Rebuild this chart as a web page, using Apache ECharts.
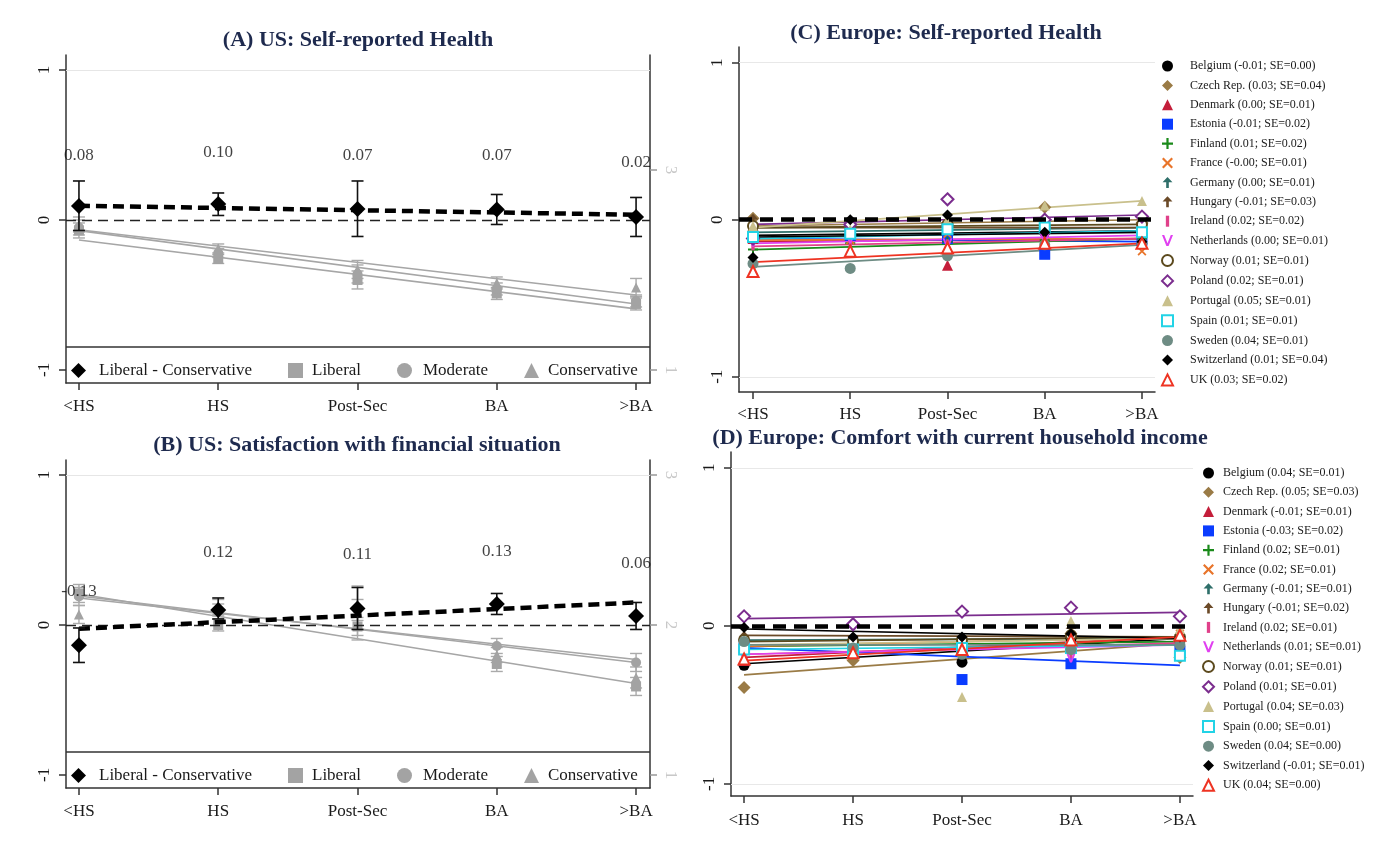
<!DOCTYPE html>
<html>
<head>
<meta charset="utf-8">
<script src="https://cdn.jsdelivr.net/npm/echarts@6/dist/echarts.min.js"></script>
<style>
  html, body { margin: 0; padding: 0; background: #fff; }
  #main { width: 1385px; height: 846px; }
</style>
</head>
<body>
<div id="main"></div>
<script>
// education groups on the x axis
const cats = ['<HS', 'HS', 'Post-Sec', 'BA', '>BA'];

// ---- (A) US: Self-reported Health ----
const lcA = [0.093, 0.107, 0.073, 0.07, 0.02];
const lcLoA = [-0.07, 0.03, -0.11, -0.03, -0.11];
const lcHiA = [0.26, 0.18, 0.26, 0.17, 0.15];
const fitLcA = [0.095, 0.035];
const diffLabA = ['0.08', '0.10', '0.07', '0.07', '0.02'];
const labYA = [0.43, 0.45, 0.43, 0.43, 0.38];
const libA = [-0.07, -0.26, -0.40, -0.49, -0.56];
const libLoA = [-0.12, -0.29, -0.46, -0.53, -0.60];
const libHiA = [-0.02, -0.23, -0.34, -0.45, -0.52];
const modA = [-0.05, -0.22, -0.36, -0.46, -0.54];
const modLoA = [-0.10, -0.25, -0.42, -0.50, -0.58];
const modHiA = [0.00, -0.19, -0.30, -0.42, -0.50];
const conA = [-0.03, -0.19, -0.33, -0.42, -0.45];
const conLoA = [-0.08, -0.22, -0.39, -0.46, -0.51];
const conHiA = [0.02, -0.16, -0.27, -0.38, -0.39];
const fitLibA = [-0.133, -0.593];
const fitModA = [-0.071, -0.56];
const fitConA = [-0.065, -0.50];

// ---- (B) US: Satisfaction with financial situation ----
const lcB = [-0.135, 0.10, 0.11, 0.14, 0.06];
const lcLoB = [-0.25, 0.04, -0.03, 0.07, -0.03];
const lcHiB = [-0.02, 0.18, 0.25, 0.21, 0.15];
const fitLcB = [-0.025, 0.15];
const diffLabB = ['-0.13', '0.12', '0.11', '0.13', '0.06'];
const labYB = [0.22, 0.48, 0.467, 0.49, 0.41];
const libB = [0.21, 0.0, -0.01, -0.26, -0.41];
const libLoB = [0.15, -0.04, -0.07, -0.31, -0.47];
const libHiB = [0.27, 0.04, 0.05, -0.21, -0.35];
const modB = [0.19, 0.10, 0.10, -0.14, -0.25];
const modLoB = [0.13, 0.06, 0.03, -0.19, -0.31];
const modHiB = [0.25, 0.14, 0.17, -0.09, -0.19];
const conB = [0.07, 0.12, 0.08, -0.20, -0.35];
const conLoB = [0.01, 0.07, -0.10, -0.25, -0.42];
const conHiB = [0.13, 0.17, 0.26, -0.15, -0.28];
const fitLibB = [0.207, -0.39];
const fitModB = [0.193, -0.25];
const fitConB = [0.18, -0.23];

// ---- Europe panels ----
const countries = ['Belgium', 'Czech Rep.', 'Denmark', 'Estonia', 'Finland', 'France', 'Germany', 'Hungary',
  'Ireland', 'Netherlands', 'Norway', 'Poland', 'Portugal', 'Spain', 'Sweden', 'Switzerland', 'UK'];
const coefC = ['-0.01', '0.03', '0.00', '-0.01', '0.01', '-0.00', '0.00', '-0.01', '0.02', '0.00', '0.01', '0.02', '0.05', '0.01', '0.04', '0.01', '0.03'];
const seC = ['0.00', '0.04', '0.01', '0.02', '0.02', '0.01', '0.01', '0.03', '0.02', '0.01', '0.01', '0.01', '0.01', '0.01', '0.01', '0.04', '0.02'];
const coefD = ['0.04', '0.05', '-0.01', '-0.03', '0.02', '0.02', '-0.01', '-0.01', '0.02', '0.01', '0.01', '0.01', '0.04', '0.00', '0.04', '-0.01', '0.04'];
const seD = ['0.01', '0.03', '0.01', '0.02', '0.01', '0.01', '0.01', '0.02', '0.01', '0.01', '0.01', '0.01', '0.03', '0.01', '0.00', '0.01', '0.00'];

// (C) points per country, <HS .. >BA
const markC = [
  [-0.08, -0.07, -0.06, -0.08, -0.09],
  [0.01, -0.04, -0.02, 0.08, -0.02],
  [-0.12, -0.10, -0.29, -0.15, -0.12],
  [-0.11, -0.10, -0.12, -0.22, -0.13],
  [-0.19, -0.15, -0.14, -0.13, -0.12],
  [-0.12, -0.13, -0.09, -0.16, -0.20],
  [-0.08, -0.07, -0.04, -0.03, -0.06],
  [0.00, -0.06, -0.05, -0.03, -0.07],
  [-0.16, -0.15, -0.16, -0.13, -0.10],
  [-0.14, -0.12, -0.15, -0.12, -0.10],
  [-0.04, -0.05, -0.03, -0.05, -0.03],
  [-0.12, -0.03, 0.13, 0.00, 0.02],
  [-0.04, -0.06, 0.00, 0.09, 0.12],
  [-0.11, -0.09, -0.06, -0.05, -0.08],
  [-0.28, -0.31, -0.23, -0.16, -0.15],
  [-0.24, 0.00, 0.03, -0.08, -0.14],
  [-0.33, -0.20, -0.18, -0.15, -0.15]
];
// (C) fitted line, value at <HS and at >BA
const fitC = [
  [-0.10, -0.07], [-0.04, 0.00], [-0.14, -0.12], [-0.12, -0.14], [-0.19, -0.12], [-0.13, -0.12],
  [-0.08, -0.05], [-0.05, -0.05], [-0.17, -0.12], [-0.15, -0.10], [-0.05, -0.03], [-0.03, 0.03],
  [-0.05, 0.12], [-0.12, -0.07], [-0.30, -0.16], [-0.11, -0.08], [-0.27, -0.15]
];
// (D) points per country
const markD = [
  [-0.25, -0.09, -0.23, -0.08, -0.09],
  [-0.39, -0.22, -0.15, -0.05, -0.20],
  [-0.22, -0.17, -0.15, -0.08, -0.07],
  [-0.14, -0.15, -0.34, -0.24, -0.16],
  [-0.12, -0.12, -0.12, -0.15, -0.10],
  [-0.13, -0.12, -0.12, -0.10, -0.05],
  [-0.09, -0.10, -0.08, -0.06, -0.08],
  [-0.07, -0.08, -0.10, -0.02, -0.06],
  [-0.18, -0.16, -0.17, -0.17, -0.10],
  [-0.19, -0.16, -0.13, -0.20, -0.12],
  [-0.09, -0.10, -0.09, -0.06, -0.07],
  [0.06, 0.01, 0.09, 0.115, 0.06],
  [-0.10, -0.16, -0.45, 0.03, -0.02],
  [-0.15, -0.15, -0.14, -0.14, -0.19],
  [-0.10, -0.14, -0.18, -0.15, -0.12],
  [-0.01, -0.07, -0.07, -0.05, -0.07],
  [-0.21, -0.17, -0.15, -0.09, -0.06]
];
const fitD = [
  [-0.24, -0.08], [-0.31, -0.11], [-0.20, -0.07], [-0.14, -0.25], [-0.13, -0.10], [-0.13, -0.07],
  [-0.09, -0.08], [-0.06, -0.07], [-0.18, -0.11], [-0.18, -0.12], [-0.10, -0.07], [0.045, 0.085],
  [-0.12, -0.08], [-0.15, -0.12], [-0.12, -0.12], [-0.02, -0.08], [-0.22, -0.07]
];

const serif = '"Liberation Serif", "DejaVu Serif", serif';
const plusPath = 'path://M4,0H6V4H10V6H6V10H4V6H0V4H4Z';
const xPath = 'path://M1.4,0L5,3.6L8.6,0L10,1.4L6.4,5L10,8.6L8.6,10L5,6.4L1.4,10L0,8.6L3.6,5L0,1.4Z';
const arrowPath = 'path://M5,0L9.5,4.8L6.2,4.8L6.2,10L3.8,10L3.8,4.8L0.5,4.8Z';
const barPath = 'path://M0,0H3V10H0Z';
const vPath = 'path://M0,0L2,0L5,7.4L8,0L10,0L6,10L4,10Z';
const cSym = ['circle', 'diamond', 'triangle', 'rect', plusPath, xPath, arrowPath, arrowPath, barPath, vPath,
  'emptyCircle', 'emptyDiamond', 'triangle', 'emptyRect', 'circle', 'diamond', 'emptyTriangle'];
const cCol = ['#000000', '#9a7b46', '#c41e3a', '#0a3cff', '#1a8a1a', '#e8742a', '#2f6f6a', '#6b4a28',
  '#e0408a', '#e040f0', '#5c4a1e', '#7b2d8e', '#c9c08c', '#22d3e6', '#6e8c84', '#000000', '#ee3322'];
const cSize = [11, 13, 11, 11, 10, 9, 12, 12, 11, 10, 10, 12, 10, 10, 11, 11, 11];

const xTicks = cats.map((c, i) => i);
const gray = '#a6a6a6';
const axisCol = '#333';

function xAx(gi, min, max, margin) {
  return {
    type: 'value', gridIndex: gi, min: min, max: max,
    axisLine: { show: true, onZero: false, lineStyle: { color: axisCol, width: 1.5 } },
    axisTick: { show: true, customValues: xTicks, length: 7, lineStyle: { color: axisCol, width: 1.5 } },
    axisLabel: { customValues: xTicks, formatter: v => cats[Math.round(v)], fontFamily: serif, fontSize: 17, color: '#1a1a1a', margin: margin },
    splitLine: { show: false }
  };
}
function yLeft(gi, min, max) {
  return {
    type: 'value', gridIndex: gi, min: min, max: max, position: 'left',
    axisLine: { show: true, onZero: false, lineStyle: { color: axisCol, width: 1.5 } },
    axisTick: { show: true, customValues: [-1, 0, 1], length: 7, lineStyle: { color: axisCol, width: 1.5 } },
    axisLabel: { customValues: [-1, 0, 1], rotate: 90, fontFamily: serif, fontSize: 17, color: '#1a1a1a', margin: 13 },
    splitLine: { show: false }
  };
}
function yRight(gi, min, max, ticks) {
  return {
    type: 'value', gridIndex: gi, min: min, max: max, position: 'right',
    axisLine: { show: true, onZero: false, lineStyle: { color: axisCol, width: 1.5 } },
    axisTick: { show: true, customValues: ticks, length: 7, lineStyle: { color: '#999', width: 1.5 } },
    axisLabel: { customValues: ticks, rotate: -90, fontFamily: serif, fontSize: 17, color: '#c8c8c8', margin: 12 },
    splitLine: { show: false }
  };
}

function errBar(color, w, cap) {
  return function (params, api) {
    const x = api.value(0);
    const a = api.coord([x, api.value(1)]);
    const b = api.coord([x, api.value(2)]);
    const st = { stroke: color, lineWidth: w };
    return {
      type: 'group', children: [
        { type: 'line', shape: { x1: a[0], y1: a[1], x2: b[0], y2: b[1] }, style: st },
        { type: 'line', shape: { x1: a[0] - cap, y1: a[1], x2: a[0] + cap, y2: a[1] }, style: st },
        { type: 'line', shape: { x1: b[0] - cap, y1: b[1], x2: b[0] + cap, y2: b[1] }, style: st }
      ]
    };
  };
}

function usPanel(xi, yi, p) {
  const out = [];
  // reference lines
  out.push({
    type: 'line', xAxisIndex: xi, yAxisIndex: yi, data: [], silent: true,
    markLine: {
      silent: true, symbol: 'none', label: { show: false },
      data: [
        { yAxis: 1, lineStyle: { color: '#e6e6e6', width: 1.2, type: 'solid' } },
        { yAxis: 0, lineStyle: { color: '#222', width: 1.4, type: [10, 6] } }
      ]
    }
  });
  const groups = [
    ['Liberal', 'rect', p.lib, p.libLo, p.libHi, p.fitLib],
    ['Moderate', 'circle', p.mod, p.modLo, p.modHi, p.fitMod],
    ['Conservative', 'triangle', p.con, p.conLo, p.conHi, p.fitCon]
  ];
  groups.forEach(g => {
    out.push({
      type: 'line', xAxisIndex: xi, yAxisIndex: yi, name: g[0] + ' fit', symbol: 'none', silent: true, z: 2,
      data: [[0, g[5][0]], [4, g[5][1]]], lineStyle: { color: gray, width: 1.6 }
    });
    out.push({
      type: 'custom', xAxisIndex: xi, yAxisIndex: yi, name: g[0] + ' ci', silent: true, z: 3,
      renderItem: errBar('#aaaaaa', 1.4, 6), encode: { x: 0, y: [1, 2] },
      data: cats.map((c, i) => [i, g[3][i], g[4][i]])
    });
    out.push({
      type: 'scatter', xAxisIndex: xi, yAxisIndex: yi, name: g[0], symbol: g[1], symbolSize: 10, z: 4,
      itemStyle: { color: '#a3a3a3', opacity: 1 }, data: cats.map((c, i) => [i, g[2][i]])
    });
  });
  out.push({
    type: 'line', xAxisIndex: xi, yAxisIndex: yi, name: 'L-C fit', symbol: 'none', silent: true, z: 5,
    data: [[0, p.fitLc[0]], [4, p.fitLc[1]]], lineStyle: { color: '#000', width: 4.5, type: [11, 6] }
  });
  out.push({
    type: 'custom', xAxisIndex: xi, yAxisIndex: yi, name: 'L-C ci', silent: true, z: 6,
    renderItem: errBar('#111', 1.6, 6), encode: { x: 0, y: [1, 2] },
    data: cats.map((c, i) => [i, p.lcLo[i], p.lcHi[i]])
  });
  out.push({
    type: 'scatter', xAxisIndex: xi, yAxisIndex: yi, name: 'Liberal - Conservative', symbol: 'diamond',
    symbolSize: 16, z: 7, itemStyle: { color: '#000', opacity: 1 }, data: cats.map((c, i) => [i, p.lc[i]])
  });
  out.push({
    type: 'scatter', xAxisIndex: xi, yAxisIndex: yi, name: 'diff labels', symbolSize: 1, silent: true, z: 8,
    itemStyle: { color: 'rgba(0,0,0,0)' },
    label: {
      show: true, position: 'inside', formatter: q => p.lab[q.dataIndex],
      fontFamily: serif, fontSize: 17, color: '#111'
    },
    data: cats.map((c, i) => [i, p.labY[i]])
  });
  return out;
}

function euPanel(xi, yi, marks, fits, coefs, ses) {
  const out = [];
  const names = countries.map((c, k) => c + ' (' + coefs[k] + '; SE=' + ses[k] + ')');
  out.push({
    type: 'line', xAxisIndex: xi, yAxisIndex: yi, data: [], silent: true,
    markLine: {
      silent: true, symbol: 'none', label: { show: false },
      data: [
        { yAxis: 1, lineStyle: { color: '#e8e8e8', width: 1.2, type: 'solid' } },
        { yAxis: -1, lineStyle: { color: '#e8e8e8', width: 1.2, type: 'solid' } }
      ]
    }
  });
  countries.forEach((c, k) => {
    out.push({
      type: 'line', xAxisIndex: xi, yAxisIndex: yi, name: c + ' fit', symbol: 'none', silent: true, z: 2,
      data: [[0, fits[k][0]], [4, fits[k][1]]], lineStyle: { color: cCol[k], width: 1.7 }
    });
  });
  countries.forEach((c, k) => {
    out.push({
      type: 'scatter', xAxisIndex: xi, yAxisIndex: yi, name: names[k], symbol: cSym[k], symbolSize: cSize[k],
      symbolKeepAspect: true, z: 3,
      itemStyle: { color: cCol[k], opacity: 1, borderWidth: cSym[k].indexOf('empty') === 0 ? 1.8 : 0 },
      data: cats.map((x, i) => [i, marks[k][i]])
    });
  });
  out.push({
    type: 'line', xAxisIndex: xi, yAxisIndex: yi, data: [], silent: true, z: 9,
    markLine: {
      silent: true, symbol: 'none', label: { show: false }, z: 9,
      data: [{ yAxis: 0, lineStyle: { color: '#000', width: 4.5, type: [13, 8] } }]
    }
  });
  return { series: out, names: names };
}

const pA = { lc: lcA, lcLo: lcLoA, lcHi: lcHiA, fitLc: fitLcA, lab: diffLabA, labY: labYA,
  lib: libA, libLo: libLoA, libHi: libHiA, mod: modA, modLo: modLoA, modHi: modHiA,
  con: conA, conLo: conLoA, conHi: conHiA, fitLib: fitLibA, fitMod: fitModA, fitCon: fitConA };
const pB = { lc: lcB, lcLo: lcLoB, lcHi: lcHiB, fitLc: fitLcB, lab: diffLabB, labY: labYB,
  lib: libB, libLo: libLoB, libHi: libHiB, mod: modB, modLo: modLoB, modHi: modHiB,
  con: conB, conLo: conLoB, conHi: conHiB, fitLib: fitLibB, fitMod: fitModB, fitCon: fitConB };

const eC = euPanel(2, 4, markC, fitC, coefC, seC);
const eD = euPanel(3, 5, markD, fitD, coefD, seD);

const usLegend = ['Liberal - Conservative', 'Liberal', 'Moderate', 'Conservative'];
const usLegendLeft = [66, 283, 392, 519];
const usLegendPad = [8, 4, 6, 4];
const titleCol = '#1e2a4e';

// one legend block per item so each sits where it does in the boxed legend
function usLegends(top) {
  return usLegend.map((name, i) => ({
    data: [name], left: usLegendLeft[i], top: top, itemWidth: 15, itemHeight: 15, selectedMode: false,
    itemStyle: { opacity: 1 },
    textStyle: { fontFamily: serif, fontSize: 17, color: '#1a1a1a', padding: [0, 0, 0, usLegendPad[i]] }
  }));
}

function title(text, x, y) {
  return { type: 'text', x: x, y: y, silent: true,
    style: { text: text, font: 'bold 22px ' + serif, fill: titleCol, align: 'center', verticalAlign: 'middle' } };
}

const chart = echarts.init(document.getElementById('main'));
chart.setOption({
  animation: false,
  backgroundColor: '#fff',
  grid: [
    { left: 66, top: 55, width: 584, height: 328 },
    { left: 66, top: 460, width: 584, height: 328 },
    { left: 739, top: 47, width: 416, height: 345 },
    { left: 731, top: 452, width: 462, height: 344 }
  ],
  xAxis: [xAx(0, -0.093, 4.1, 15), xAx(1, -0.093, 4.1, 15), xAx(2, -0.144, 4.134, 14), xAx(3, -0.12, 4.12, 16)],
  yAxis: [
    yLeft(0, -1.087, 1.1), yRight(0, 0.87, 4.15, [1, 3]),
    yLeft(1, -1.087, 1.1), yRight(1, 0.913, 3.1, [1, 2, 3]),
    yLeft(2, -1.097, 1.1), yLeft(3, -1.077, 1.1)
  ],
  legend: [].concat(usLegends(357), usLegends(762), [
    { data: eC.names, orient: 'vertical', left: 1156, top: 55, itemGap: 7.4, itemWidth: 11, itemHeight: 11,
      selectedMode: false, itemStyle: { opacity: 1 },
      textStyle: { fontFamily: serif, fontSize: 12, lineHeight: 12, color: '#1a1a1a', padding: [0, 0, 0, 12] } },
    { data: eD.names, orient: 'vertical', left: 1197, top: 462, itemGap: 7.3, itemWidth: 11, itemHeight: 11,
      selectedMode: false, itemStyle: { opacity: 1 },
      textStyle: { fontFamily: serif, fontSize: 12, lineHeight: 12, color: '#1a1a1a', padding: [0, 0, 0, 4] } }
  ]),
  graphic: [
    title('(A) US: Self-reported Health', 358, 40),
    title('(B) US: Satisfaction with financial situation', 357, 445),
    title('(C) Europe: Self-reported Health', 946, 33),
    title('(D) Europe: Comfort with current household income', 960, 438),
    { type: 'line', silent: true, shape: { x1: 66, y1: 347, x2: 650, y2: 347 }, style: { stroke: axisCol, lineWidth: 1.5 } },
    { type: 'line', silent: true, shape: { x1: 66, y1: 752, x2: 650, y2: 752 }, style: { stroke: axisCol, lineWidth: 1.5 } }
  ],
  series: [].concat(usPanel(0, 0, pA), usPanel(1, 2, pB), eC.series, eD.series)
});
window.addEventListener('resize', () => chart.resize());
</script>
</body>
</html>
